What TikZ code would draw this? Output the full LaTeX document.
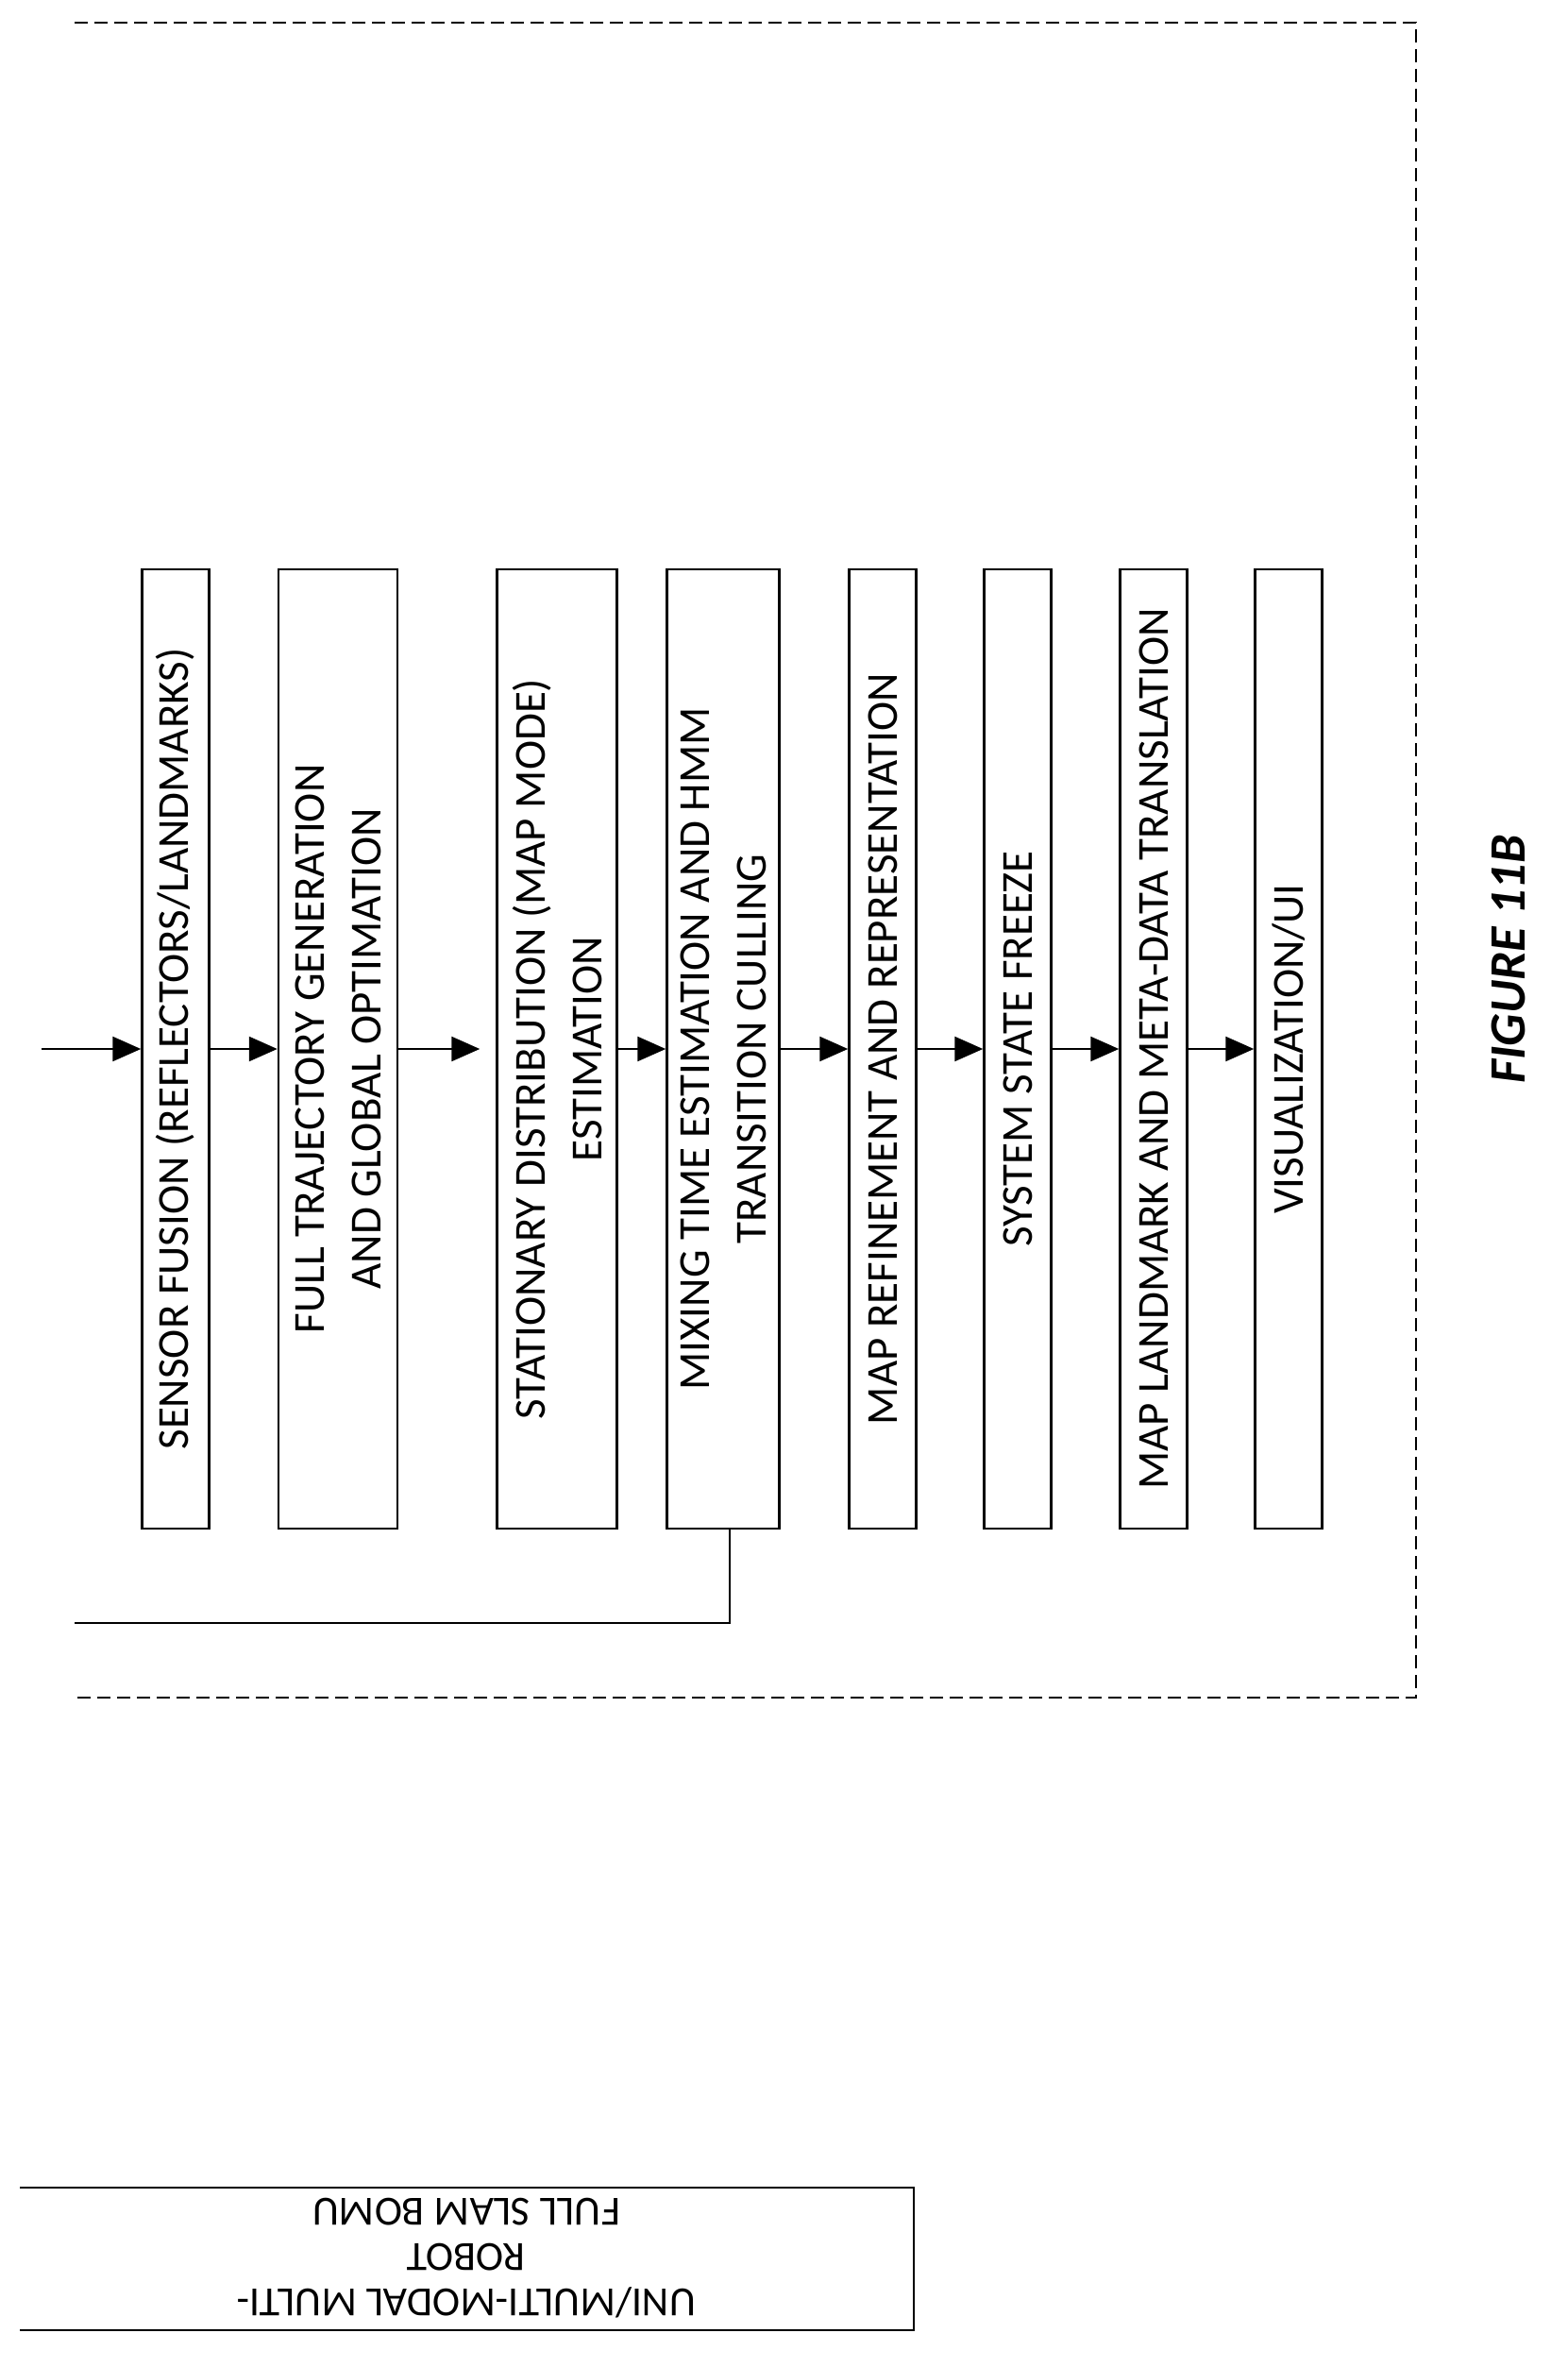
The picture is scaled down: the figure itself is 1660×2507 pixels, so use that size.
\documentclass[tikz,border=0pt]{standalone}
\usepackage{fontspec}
\setmainfont{Carlito}
\usetikzlibrary{positioning,arrows.meta}

\begin{document}
\begin{tikzpicture}[x=1pt,y=-1pt,line width=2.5pt]
\tikzstyle{stage}=[draw,rectangle,rotate=90,minimum width=1016pt,align=center,font=\fontsize{47}{60}\selectfont]
\tikzstyle{flow}=[-{Triangle[length=30pt,width=26pt]}]
\useasboundingbox (0,0) rectangle (1660,2507);

% dashed frame, open on the left
\draw[dash pattern=on 14pt off 7pt] (79,24) -- (1500,24) -- (1500,1798) -- (79,1798);

\node[stage,minimum height=71pt] (sf) at (186,1111) {SENSOR FUSION (REFLECTORS/LANDMARKS)};
\node[stage,minimum height=126pt] (ft) at (358,1111) {FULL TRAJECTORY GENERATION\\AND GLOBAL OPTIMATION};
\node[stage,minimum height=127pt] (sd) at (590,1111) {STATIONARY DISTRIBUTION (MAP MODE)\\ESTIMATION};
\node[stage,minimum height=119pt] (mt) at (766,1111) {MIXING TIME ESTIMATION AND HMM\\TRANSITION CULLING};
\node[stage,minimum height=71pt] (mr) at (935,1111) {MAP REFINEMENT AND REPRESENTATION};
\node[stage,minimum height=71pt] (ss) at (1078,1111) {SYSTEM STATE FREEZE};
\node[stage,minimum height=71pt] (ml) at (1222,1111) {MAP LANDMARK AND META-DATA TRANSLATION};
\node[stage,minimum height=71pt] (vi) at (1365,1111) {VISUALIZATION/UI};

\coordinate (in) at (44,1111);
\coordinate (fb) at (79,1719);

\draw[flow] (in) -- (sf);
\draw[flow] (sf) -- (ft);
\draw[flow,shorten >=17pt] (ft) -- (sd);
\draw[flow] (sd) -- (mt);
\draw[flow] (mt) -- (mr);
\draw[flow] (mr) -- (ss);
\draw[flow] (ss) -- (ml);
\draw[flow] (ml) -- (vi);
\draw ([xshift=7pt]mt.west) |- (fb);

% upside-down block at the bottom
\draw (21,2317) -- (968,2317) -- (968,2468) -- (21,2468);
\node[rotate=180,align=center,font=\fontsize{44}{48}\selectfont] (bomu) at (494,2392) {UNI/MULTI-MODAL MULTI-\\ROBOT\\FULL SLAM BOMU};

\node[rotate=90,font=\fontsize{54}{60}\selectfont\bfseries\itshape] (fig) at (1598,1016) {FIGURE 11B};
\end{tikzpicture}
\end{document}
